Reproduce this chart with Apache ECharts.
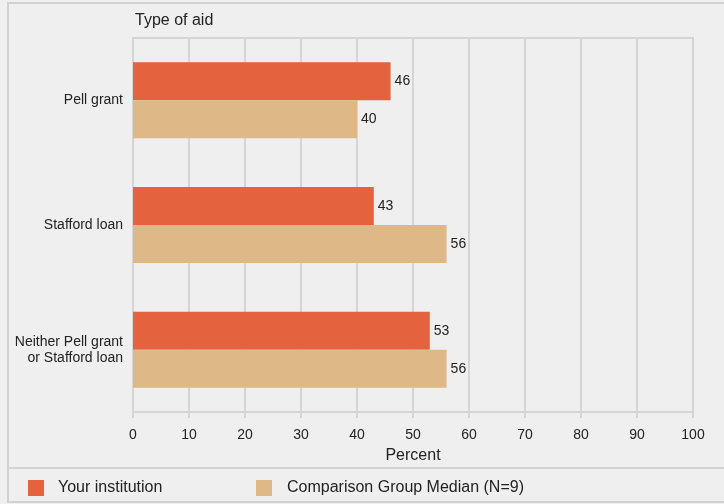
<!DOCTYPE html>
<html>
<head>
<meta charset="utf-8">
<script src="https://cdn.jsdelivr.net/npm/echarts@6/dist/echarts.min.js"></script>
<style>html,body{margin:0;padding:0;background:#efefef;}#c{width:724px;height:504px;}</style>
</head>
<body>
<div id="c"></div>
<script>
var categories = ['Pell grant', 'Stafford loan', 'Neither Pell grant\nor Stafford loan'];
var yourInstitution = [46, 43, 53];
var comparisonMedian = [40, 56, 56];
var xTicks = [0, 100, 10];
var seriesNames = ['Your institution', 'Comparison Group Median (N=9)'];

var chart = echarts.init(document.getElementById('c'));
var gridColor = '#d5d5d5';
var font = '"Liberation Sans", Arial, sans-serif';
chart.setOption({
  backgroundColor: '#efefef',
  animation: false,
  textStyle: { fontFamily: font, color: '#222' },
  title: {
    text: 'Type of aid', left: 130, top: 8,
    textStyle: { fontSize: 16, fontWeight: 'normal', color: '#222', fontFamily: font }
  },
  graphic: [
    { type: 'rect', shape: { x: 8, y: 3, width: 730, height: 499 }, style: { fill: 'none', stroke: '#d2d2d2', lineWidth: 2 }, silent: true },
    { type: 'line', shape: { x1: 8, y1: 468, x2: 724, y2: 468 }, style: { stroke: '#d2d2d2', lineWidth: 2 }, silent: true }
  ],
  legend: [
    { left: 23, top: 475, itemWidth: 16, itemHeight: 16, icon: 'rect', data: [seriesNames[0]],
      textStyle: { fontSize: 16, color: '#222', padding: [0, 0, 0, 9], fontFamily: font } },
    { left: 251, top: 475, itemWidth: 16, itemHeight: 16, icon: 'rect', data: [seriesNames[1]],
      textStyle: { fontSize: 16, color: '#222', padding: [0, 0, 0, 10], fontFamily: font } }
  ],
  grid: { left: 133, right: 31, top: 38, bottom: 92, show: true, borderColor: gridColor, borderWidth: 2, backgroundColor: 'transparent', containLabel: false },
  xAxis: {
    type: 'value', min: xTicks[0], max: xTicks[1], interval: xTicks[2],
    name: 'Percent', nameLocation: 'middle', nameGap: 36,
    nameTextStyle: { fontSize: 16, color: '#222', fontFamily: font },
    axisLine: { show: true, lineStyle: { color: gridColor, width: 2 } },
    axisTick: { show: true, length: 6, lineStyle: { color: gridColor, width: 2 } },
    axisLabel: { fontSize: 14, color: '#222', margin: 16, fontFamily: font },
    splitLine: { show: true, lineStyle: { color: gridColor, width: 2 } }
  },
  yAxis: {
    type: 'category', data: categories, inverse: true,
    axisLine: { show: false }, axisTick: { show: false },
    axisLabel: { fontSize: 14, color: '#222', margin: 10, lineHeight: 16, align: 'right', fontFamily: font },
    splitLine: { show: false }
  },
  series: [
    { name: seriesNames[0], type: 'bar', data: yourInstitution, barWidth: 38, barGap: '0%',
      itemStyle: { color: '#E5623F' },
      label: { show: true, position: 'right', distance: 4, fontSize: 14, color: '#222', fontFamily: font } },
    { name: seriesNames[1], type: 'bar', data: comparisonMedian, barWidth: 38, barGap: '0%',
      itemStyle: { color: '#DFB887' },
      label: { show: true, position: 'right', distance: 4, fontSize: 14, color: '#222', fontFamily: font } }
  ]
});
</script>
</body>
</html>
